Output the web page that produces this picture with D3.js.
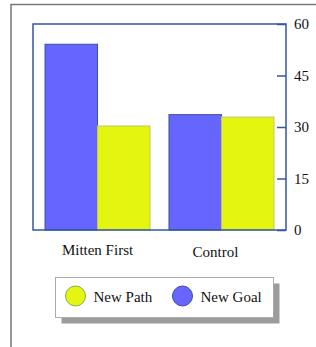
<!DOCTYPE html>
<html>
<head>
<meta charset="utf-8">
<script src="https://cdn.jsdelivr.net/npm/d3@7"></script>
<style>
  body { margin: 0; background: #fff; }
  text { font-family: "Liberation Serif", "Times New Roman", Times, serif; font-size: 15px; fill: #111; }
</style>
</head>
<body>
<div id="viz"></div>
<script>
// grouped bars, axis on the right

const categories = ['Mitten First', 'Control'];
const seriesNames = ['New Goal', 'New Path'];
const newGoal = [54.1, 33.6];
const newPath = [30.3, 32.9];
const yTicks = [0, 15, 30, 45, 60];
const legendOrder = ['New Path', 'New Goal'];

const colors = { 'New Goal': '#6666ff', 'New Path': '#e4f510' };
const strokes = { 'New Goal': '#3a4fa0', 'New Path': '#c4c46a' };
const legendStrokes = { 'New Goal': '#3a4fa0', 'New Path': '#7cb342' };

function drawChart() {
    const dimensions = {
        width: 316,
        height: 347,
        margins: { top: 24, left: 33, right: 30, bottom: 117 }
    };
    dimensions.boundedWidth = dimensions.width - dimensions.margins.left - dimensions.margins.right;
    dimensions.boundedHeight = dimensions.height - dimensions.margins.top - dimensions.margins.bottom;

    const values = { 'New Goal': newGoal, 'New Path': newPath };

    const svg = d3.select('#viz').append('svg')
        .attr('width', dimensions.width)
        .attr('height', dimensions.height);

    // outer frame (runs off the right/bottom edge)
    svg.append('rect')
        .attr('x', 11).attr('y', 4.5)
        .attr('width', 400).attr('height', 400)
        .attr('fill', 'none')
        .attr('stroke', '#777')
        .attr('stroke-width', 1.5);

    const bounds = svg.append('g')
        .attr('transform', `translate(${dimensions.margins.left},${dimensions.margins.top})`);

    // scales
    const xScale = d3.scaleBand()
        .domain(categories)
        .range([0, dimensions.boundedWidth])
        .paddingInner(0.153)
        .paddingOuter(0.097);

    const xSub = d3.scaleBand()
        .domain(seriesNames)
        .range([0, xScale.bandwidth()]);

    const yScale = d3.scaleLinear()
        .domain([0, 60])
        .range([dimensions.boundedHeight, 0]);

    // bars
    const groups = bounds.selectAll('.group')
        .data(categories)
        .join('g')
        .attr('class', 'group')
        .attr('transform', d => `translate(${xScale(d)},0)`);

    groups.selectAll('rect')
        .data((c, i) => seriesNames.map(s => ({ s, v: values[s][i] })))
        .join('rect')
        .attr('x', d => xSub(d.s))
        .attr('y', d => yScale(d.v))
        .attr('width', xSub.bandwidth())
        .attr('height', d => dimensions.boundedHeight - yScale(d.v))
        .attr('fill', d => colors[d.s])
        .attr('stroke', d => strokes[d.s])
        .attr('stroke-width', 1);

    // plot box
    bounds.append('rect')
        .attr('width', dimensions.boundedWidth)
        .attr('height', dimensions.boundedHeight)
        .attr('fill', 'none')
        .attr('stroke', '#3555a5')
        .attr('stroke-width', 1.5);

    // right axis with inward ticks
    const yAxis = d3.axisRight(yScale)
        .tickValues(yTicks)
        .tickSizeInner(-9)
        .tickSizeOuter(0)
        .tickPadding(8);

    const yAxisGroup = bounds.append('g')
        .attr('transform', `translate(${dimensions.boundedWidth},0)`)
        .call(yAxis);
    yAxisGroup.select('.domain').remove();
    yAxisGroup.selectAll('line').attr('stroke', '#3555a5').attr('stroke-width', 1.5);
    yAxisGroup.selectAll('text')
        .attr('font-family', '"Liberation Serif", serif')
        .attr('font-size', 15)
        .attr('fill', '#111');

    // category labels
    bounds.selectAll('.cat')
        .data(categories)
        .join('text')
        .attr('class', 'cat')
        .attr('x', d => xScale(d) + xScale.bandwidth() / 2 + (d === 'Control' ? -6 : 0))
        .attr('y', d => dimensions.boundedHeight + (d === 'Control' ? 27 : 25))
        .attr('text-anchor', 'middle')
        .text(d => d);

    // legend
    const legend = svg.append('g')
        .attr('transform', 'translate(55.5,277.5)');

    legend.append('rect')
        .attr('x', 6).attr('y', 6)
        .attr('width', 218).attr('height', 40)
        .attr('fill', '#9c9c9c');

    legend.append('rect')
        .attr('width', 218).attr('height', 40)
        .attr('fill', '#fff')
        .attr('stroke', '#aaa')
        .attr('stroke-width', 1);

    const items = legend.selectAll('.item')
        .data(legendOrder)
        .join('g')
        .attr('class', 'item')
        .attr('transform', (d, i) => `translate(${20 + i * 107},18.5)`);

    items.append('circle')
        .attr('r', 10)
        .attr('fill', d => colors[d])
        .attr('stroke', d => legendStrokes[d])
        .attr('stroke-width', 1);

    items.append('text')
        .attr('x', 18)
        .attr('y', 6)
        .text(d => d);
}

drawChart();
</script>
</body>
</html>
